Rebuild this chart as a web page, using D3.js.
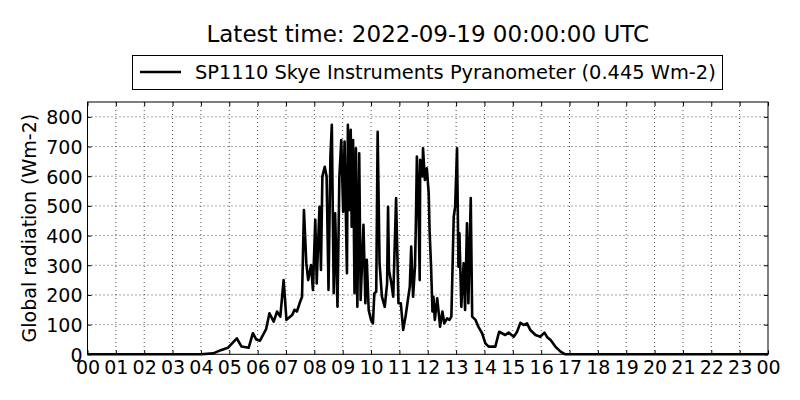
<!DOCTYPE html>
<html>
<head>
<meta charset="utf-8">
<script src="https://cdn.jsdelivr.net/npm/d3@7"></script>
<style>
  body { margin: 0; background: #fff; }
  svg text { font-family: "DejaVu Sans", sans-serif; fill: #000; }
</style>
</head>
<body>
<div class="container"></div>
<script>
// readings (HH:MM, W m-2)
var times = ['00:00','04:00','04:26','04:42','04:57','05:16','05:26','05:41','05:50','05:57',
  '06:05','06:18','06:25','06:34','06:41','06:48','06:55','07:01','07:13','07:18',
  '07:23','07:30','07:34','07:38','07:43','07:47','07:53','07:57','08:02','08:05',
  '08:09','08:11','08:14','08:17','08:22','08:26','08:30','08:34','08:37','08:41',
  '08:44','08:49','08:53','08:57','09:01','09:04','09:09','09:11','09:14','09:17',
  '09:19','09:22','09:25','09:28','09:31','09:35','09:38','09:44','09:48','09:51',
  '09:55','10:00','10:04','10:07','10:11','10:14','10:18','10:23','10:29','10:34',
  '10:36','10:38','10:43','10:47','10:53','10:58','11:03','11:08','11:13','11:17',
  '11:22','11:25','11:29','11:33','11:35','11:37','11:40','11:43','11:44','11:49',
  '11:50','11:54','11:58','12:02','12:04','12:07','12:10','12:12','12:15','12:20',
  '12:24','12:26','12:31','12:35','12:41','12:46','12:50','12:55','12:58','13:02',
  '13:05','13:07','13:11','13:16','13:19','13:23','13:26','13:31','13:34','13:41',
  '13:47','13:55','14:02','14:09','14:23','14:31','14:44','14:51','15:02','15:09',
  '15:16','15:23','15:30','15:37','15:48','15:58','16:07','16:13','16:20','16:30',
  '16:41','16:51','24:00'];
var radiation = [0,0,3,14,22,54,26,22,71,50,
  46,85,138,110,144,127,250,116,132,150,
  144,177,194,486,307,250,301,217,453,239,
  418,497,284,599,632,599,217,666,773,206,
  475,160,599,722,480,717,273,773,486,756,
  430,722,206,694,160,677,183,436,172,318,
  149,116,104,206,211,750,307,194,160,239,
  497,284,239,194,526,172,172,82,127,172,
  228,363,194,295,453,666,531,250,655,599,
  694,587,627,543,413,295,144,194,116,189,
  127,93,144,104,121,116,127,464,497,694,
  295,408,160,307,149,441,172,526,127,116,
  93,71,37,26,26,76,65,73,59,76,
  106,99,104,82,65,59,73,57,48,26,
  9,0,0];
var hourTicks = d3.range(0, 25);
var yTicks = [0, 100, 200, 300, 400, 500, 600, 700, 800];
var titleText = 'Latest time: 2022-09-19 00:00:00 UTC';
var legendText = 'SP1110 Skye Instruments Pyranometer (0.445 Wm-2)';

var width = 800, height = 400;
var pLeft = 87.5, pRight = 768, pTop = 102, pBottom = 354.3;

function toHours(t) {
    var p = t.split(':');
    return +p[0] + p[1] / 60;
}

var data = times.map(function(t, i) { return { h: toHours(t), v: radiation[i] }; });

var x = d3.scaleLinear().domain([0, 24]).range([pLeft, pRight]);
var y = d3.scaleLinear().domain([0, 850]).range([pBottom, pTop]);

var svg = d3.select('.container')
    .append('svg')
    .attr('width', width)
    .attr('height', height);

// grid
svg.append('g')
    .selectAll('line')
    .data(hourTicks.slice(1, -1))
    .enter()
    .append('line')
    .attr('x1', d => x(d)).attr('x2', d => x(d))
    .attr('y1', pTop).attr('y2', pBottom)
    .style('stroke', '#000').style('stroke-width', 0.7)
    .style('stroke-dasharray', '1,3');

svg.append('g')
    .selectAll('line')
    .data(yTicks.slice(1))
    .enter()
    .append('line')
    .attr('x1', pLeft).attr('x2', pRight)
    .attr('y1', d => y(d)).attr('y2', d => y(d))
    .style('stroke', '#000').style('stroke-width', 0.7)
    .style('stroke-dasharray', '1,3');

// axes, ticks pointing inward
var xAxis = svg.append('g')
    .attr('transform', 'translate(0,' + pBottom + ')')
    .call(d3.axisBottom(x).tickValues(hourTicks).tickSize(-4).tickPadding(6)
        .tickFormat(d => d3.format('02d')(d % 24)));
var yAxis = svg.append('g')
    .attr('transform', 'translate(' + pLeft + ',0)')
    .call(d3.axisLeft(y).tickValues(yTicks).tickSize(-4).tickPadding(5));
svg.append('g')
    .attr('transform', 'translate(0,' + pTop + ')')
    .call(d3.axisTop(x).tickValues(hourTicks).tickSize(-4).tickFormat(''));
svg.append('g')
    .attr('transform', 'translate(' + pRight + ',0)')
    .call(d3.axisRight(y).tickValues(yTicks).tickSize(-4).tickFormat(''));

svg.selectAll('.domain').remove();
svg.selectAll('.tick line').style('stroke', '#000');
xAxis.selectAll('text').style('font-size', '19px');
yAxis.selectAll('text').style('font-size', '19px').attr('dy', '0.36em');

// line
svg.append('path')
    .datum(data)
    .attr('d', d3.line().x(d => x(d.h)).y(d => y(d.v)))
    .style('fill', 'none')
    .style('stroke', '#000')
    .style('stroke-width', 2.6)
    .style('stroke-linejoin', 'round');

// frame
svg.append('rect')
    .attr('x', pLeft).attr('y', pTop)
    .attr('width', pRight - pLeft).attr('height', pBottom - pTop)
    .style('fill', 'none').style('stroke', '#000').style('stroke-width', 1);

// titles
svg.append('text')
    .attr('x', (pLeft + pRight) / 2).attr('y', 42)
    .attr('text-anchor', 'middle')
    .style('font-size', '23px')
    .text(titleText);

svg.append('text')
    .attr('transform', 'translate(36,' + (pTop + pBottom) / 2 + ') rotate(-90)')
    .attr('text-anchor', 'middle')
    .style('font-size', '19px')
    .text('Global radiation (Wm-2)');

// legend
var lg = svg.append('g');
lg.append('rect')
    .attr('x', 132.5).attr('y', 55.5).attr('width', 590).attr('height', 34)
    .style('fill', '#fff').style('stroke', '#000').style('stroke-width', 1);
lg.append('line')
    .attr('x1', 140).attr('x2', 181).attr('y1', 72).attr('y2', 72)
    .style('stroke', '#000').style('stroke-width', 2.6);
lg.append('text')
    .attr('x', 195).attr('y', 79)
    .style('font-size', '19.4px')
    .text(legendText);
</script>
</body>
</html>
